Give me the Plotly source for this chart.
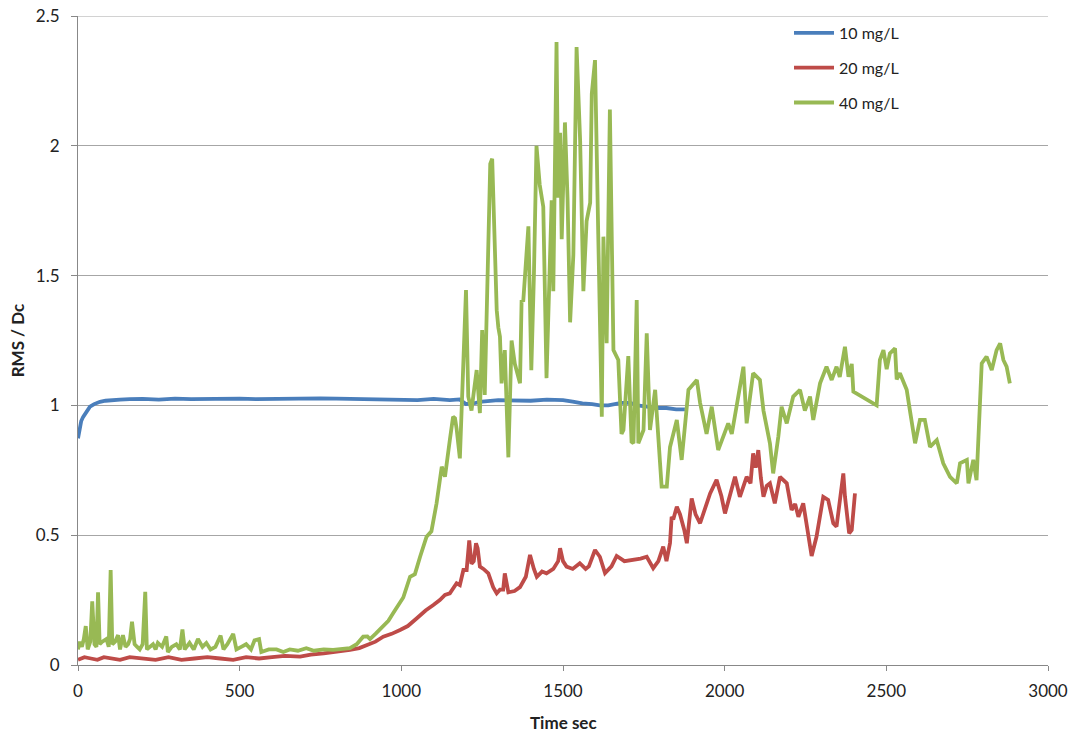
import plotly.graph_objects as go

# ---- data ----
blue_t = [0, 5, 10, 16, 25, 37, 50, 68, 85, 99,
          130, 160, 200, 250, 300, 350, 400, 450, 500, 550,
          600, 650, 700, 750, 800, 850, 900, 950, 1000, 1050,
          1100, 1150, 1180, 1200, 1230, 1250, 1300, 1350, 1400, 1450,
          1500, 1530, 1560, 1590, 1614, 1640, 1660, 1680, 1708, 1730,
          1760, 1790, 1820, 1850, 1877]
blue_v = [0.873, 0.92, 0.94, 0.956, 0.975, 0.995, 1.005, 1.014, 1.018, 1.02,
          1.022, 1.024, 1.025, 1.022, 1.026, 1.024, 1.025, 1.023, 1.026, 1.024,
          1.025, 1.027, 1.028, 1.027, 1.026, 1.025, 1.022, 1.02, 1.022, 1.02,
          1.025, 1.02, 1.023, 1.005, 1.01, 1.015, 1.02, 1.02, 1.018, 1.022,
          1.02, 1.015, 1.008, 1.005, 1.0, 1.0, 1.005, 1.01, 1.01, 1.0,
          0.995, 0.99, 0.99, 0.985, 0.985]

red_t = [0, 20, 40, 60, 80, 100, 130, 160, 200, 240,
         280, 320, 360, 400, 440, 480, 520, 560, 600, 640,
         687, 720, 760, 800, 841, 870, 893, 920, 944, 970,
         996, 1020, 1048, 1075, 1099, 1119, 1135, 1150, 1171, 1181,
         1192, 1202, 1210, 1213, 1217, 1224, 1231, 1236, 1243, 1254,
         1264, 1269, 1284, 1295, 1305, 1315, 1320, 1326, 1331, 1350,
         1367, 1385, 1398, 1410, 1419, 1435, 1449, 1470, 1485, 1491,
         1500, 1511, 1530, 1552, 1570, 1580, 1599, 1614, 1630, 1650,
         1666, 1690, 1717, 1740, 1759, 1779, 1795, 1810, 1820, 1831,
         1836, 1841, 1852, 1862, 1875, 1883, 1898, 1910, 1924, 1940,
         1955, 1975, 1990, 2001, 2015, 2032, 2047, 2068, 2080, 2088,
         2096, 2104, 2112, 2120, 2130, 2140, 2155, 2171, 2192, 2207,
         2218, 2228, 2243, 2255, 2264, 2269, 2284, 2305, 2320, 2336,
         2346, 2356, 2367, 2372, 2377, 2385, 2393, 2403]
red_v = [0.02, 0.03, 0.025, 0.02, 0.03, 0.025, 0.02, 0.03, 0.025, 0.02,
         0.03, 0.02, 0.025, 0.03, 0.025, 0.02, 0.03, 0.025, 0.03, 0.035,
         0.032, 0.04, 0.045, 0.05, 0.058, 0.065, 0.077, 0.09, 0.109, 0.12,
         0.135, 0.15, 0.18, 0.21, 0.231, 0.25, 0.27, 0.276, 0.315, 0.308,
         0.366, 0.366, 0.48, 0.43, 0.39, 0.40, 0.469, 0.45, 0.379, 0.37,
         0.36, 0.353, 0.30, 0.276, 0.29, 0.29, 0.353, 0.30, 0.28, 0.285,
         0.30, 0.34, 0.424, 0.37, 0.34, 0.36, 0.353, 0.37, 0.40, 0.45,
         0.40, 0.379, 0.37, 0.392, 0.37, 0.38, 0.443, 0.417, 0.354, 0.38,
         0.42, 0.40, 0.404, 0.41, 0.417, 0.373, 0.40, 0.456, 0.40, 0.47,
         0.571, 0.56, 0.61, 0.58, 0.52, 0.469, 0.642, 0.58, 0.546, 0.60,
         0.661, 0.713, 0.65, 0.584, 0.65, 0.725, 0.648, 0.725, 0.70, 0.815,
         0.76, 0.828, 0.72, 0.648, 0.69, 0.70, 0.623, 0.725, 0.70, 0.597,
         0.62, 0.571, 0.623, 0.52, 0.456, 0.42, 0.494, 0.648, 0.636, 0.546,
         0.533, 0.636, 0.738, 0.65, 0.60, 0.507, 0.52, 0.661]

green_t = [0, 5, 12, 18, 24, 30, 38, 44, 51, 57,
           62, 67, 75, 88, 95, 101, 106, 115, 124, 130,
           139, 147, 155, 161, 167, 175, 183, 191, 200, 208,
           213, 222, 232, 240, 247, 260, 273, 278, 290, 304,
           315, 323, 330, 345, 358, 371, 385, 397, 410, 425,
           441, 450, 462, 480, 490, 505, 520, 535, 546, 560,
           567, 590, 614, 635, 655, 680, 706, 730, 760, 789,
           810, 841, 862, 882, 895, 903, 920, 944, 960, 975,
           990, 1006, 1027, 1042, 1058, 1078, 1093, 1109, 1125, 1135,
           1150, 1160, 1166, 1171, 1181, 1192, 1200, 1207, 1217, 1224,
           1233, 1243, 1250, 1258, 1269, 1275, 1281, 1287, 1295, 1300,
           1305, 1310, 1320, 1331, 1341, 1351, 1367, 1372, 1377, 1393,
           1402, 1410, 1418, 1428, 1439, 1449, 1465, 1470, 1480, 1485,
           1491, 1496, 1506, 1514, 1522, 1532, 1542, 1553, 1563, 1573,
           1584, 1589, 1599, 1609, 1614, 1620, 1625, 1635, 1645, 1656,
           1671, 1681, 1687, 1702, 1712, 1718, 1728, 1733, 1749, 1759,
           1769, 1785, 1805, 1821, 1831, 1852, 1867, 1888, 1914, 1924,
           1944, 1960, 1980, 2011, 2022, 2058, 2068, 2088, 2109, 2120,
           2140, 2150, 2166, 2176, 2192, 2212, 2233, 2248, 2264, 2274,
           2295, 2315, 2331, 2346, 2356, 2372, 2383, 2393, 2398, 2470,
           2480, 2491, 2501, 2511, 2527, 2532, 2542, 2553, 2563, 2573,
           2589, 2604, 2619, 2635, 2656, 2676, 2697, 2718, 2728, 2749,
           2754, 2769, 2779, 2785, 2795, 2810, 2826, 2841, 2852, 2862,
           2872, 2882]
green_v = [0.06, 0.09, 0.07, 0.10, 0.15, 0.06, 0.09, 0.245, 0.08, 0.07,
           0.28, 0.08, 0.09, 0.10, 0.07, 0.366, 0.08, 0.09, 0.115, 0.06,
           0.115, 0.07, 0.08, 0.10, 0.167, 0.08, 0.07, 0.06, 0.08, 0.282,
           0.06, 0.07, 0.08, 0.06, 0.085, 0.07, 0.11, 0.05, 0.07, 0.08,
           0.06, 0.137, 0.06, 0.085, 0.06, 0.10, 0.07, 0.085, 0.06, 0.07,
           0.113, 0.06, 0.08, 0.12, 0.06, 0.07, 0.08, 0.06, 0.095, 0.10,
           0.05, 0.06, 0.06, 0.05, 0.06, 0.055, 0.065, 0.055, 0.06, 0.058,
           0.06, 0.065, 0.08, 0.109, 0.11, 0.10, 0.12, 0.148, 0.17, 0.20,
           0.23, 0.26, 0.34, 0.35, 0.417, 0.494, 0.515, 0.623, 0.764, 0.725,
           0.867, 0.956, 0.95, 0.91, 0.796, 1.124, 1.444, 1.034, 0.98, 1.05,
           1.136, 0.97, 1.29, 1.04, 1.57, 1.93, 1.95, 1.70, 1.367, 1.30,
           1.265, 1.085, 1.213, 0.80, 1.25, 1.16, 1.085, 1.406, 1.40, 1.69,
           1.136, 1.50, 2.0, 1.85, 1.765, 1.105, 1.79, 1.44, 2.40, 1.80,
           2.05, 1.64, 2.09, 1.80, 1.32, 1.58, 2.38, 2.02, 1.44, 1.71,
           1.78, 2.20, 2.33, 1.66, 1.23, 0.956, 1.65, 1.24, 2.14, 1.213,
           1.175, 0.89, 0.905, 1.19, 0.86, 0.854, 1.406, 0.854, 0.905, 1.278,
           0.905, 1.06, 0.687, 0.687, 0.84, 0.944, 0.79, 1.06, 1.098, 1.01,
           0.89, 0.995, 0.828, 0.931, 0.89, 1.149, 0.931, 1.124, 1.098, 0.98,
           0.854, 0.738, 0.88, 0.995, 0.931, 1.034, 1.06, 0.98, 1.034, 0.944,
           1.085, 1.149, 1.098, 1.149, 1.11, 1.226, 1.11, 1.16, 1.053, 1.0,
           1.175, 1.213, 1.14, 1.20, 1.22, 1.10, 1.124, 1.085, 1.06, 0.98,
           0.854, 0.944, 0.944, 0.84, 0.866, 0.777, 0.725, 0.70, 0.777, 0.79,
           0.70, 0.79, 0.712, 0.88, 1.162, 1.188, 1.136, 1.213, 1.239, 1.175,
           1.149, 1.085]

series_names = ["10 mg/L", "20 mg/L", "40 mg/L"]
series_colors = ["#4A7EBB", "#BE4B48", "#98B954"]
x_ticks = [0, 500, 1000, 1500, 2000, 2500, 3000]
y_ticks = [0, 0.5, 1, 1.5, 2, 2.5]
y_tick_text = ["0", "0.5", "1", "1.5", "2", "2.5"]

FONT = "Lato, 'Open Sans', sans-serif"

fig = go.Figure()
for i, (t, v) in enumerate([(blue_t, blue_v), (red_t, red_v), (green_t, green_v)]):
    fig.add_trace(go.Scatter(
        x=t, y=v, mode="lines", name=series_names[i],
        legendgroup=str(i),
        line=dict(color=series_colors[i], width=3.8),
    ))

fig.update_layout(
    width=1075, height=732,
    margin=dict(l=78, r=27, t=16, b=67, autoexpand=False),
    paper_bgcolor="white", plot_bgcolor="white",
    font=dict(family=FONT, size=17, color="#222"),
    showlegend=True,
    legend=dict(
        x=0.733, y=1.0, xanchor="left", yanchor="top",
        bgcolor="rgba(0,0,0,0)", font=dict(size=16, color="#222"),
        tracegroupgap=11, traceorder="grouped", itemwidth=40,
    ),
    xaxis=dict(
        range=[0, 3000], tickvals=x_ticks, ticktext=[str(v) for v in x_ticks],
        showgrid=False, zeroline=False, automargin=False,
        showline=True, linecolor="#888", linewidth=1,
        ticks="outside", ticklen=5, tickcolor="#888",
        ticklabelstandoff=6,
    ),
    yaxis=dict(
        range=[0, 2.5], tickvals=y_ticks, ticktext=y_tick_text,
        showgrid=True, gridcolor="#A6A6A6", gridwidth=1, zeroline=False,
        automargin=False,
        showline=True, linecolor="#888", linewidth=1,
        ticks="outside", ticklen=6, tickcolor="#888",
        ticklabelstandoff=8,
    ),
    annotations=[
        dict(text="<b>Time sec</b>", xref="paper", yref="paper",
             x=0.5, y=-0.088, xanchor="center", yanchor="middle",
             showarrow=False, font=dict(size=17)),
        dict(text="<b>RMS / Dc</b>", xref="paper", yref="paper",
             x=-0.062, y=0.5, xanchor="center", yanchor="middle",
             textangle=-90, showarrow=False, font=dict(size=17)),
    ],
    shapes=[
        dict(type="line", xref="paper", yref="y", x0=0, x1=1, y0=2.5, y1=2.5,
             line=dict(color="#A6A6A6", width=1), layer="below"),
    ],
)

fig.write_html("out.html")
